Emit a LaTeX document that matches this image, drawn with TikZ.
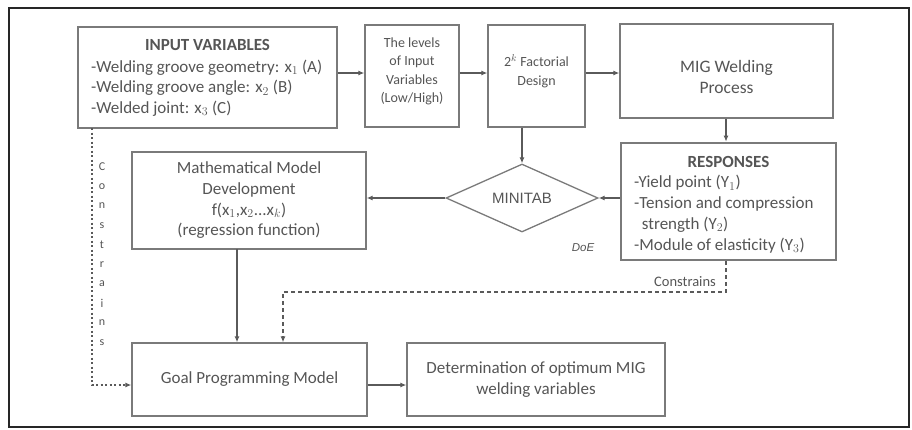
\documentclass[tikz,border=0pt]{standalone}
\usepackage{fontspec}
\setmainfont{Carlito}
\newfontfamily\arialf{Liberation Sans}
\usetikzlibrary{shapes.geometric,arrows.meta}
\definecolor{txt}{HTML}{555555}
\definecolor{bord}{HTML}{7A7A7A}
\definecolor{ln}{HTML}{5A5A5A}
\begin{document}
\begin{tikzpicture}[x=1pt,y=-1pt,
  box/.style={draw=bord,line width=1.3pt,text=txt,inner sep=0pt,align=center,font=\fontsize{17}{20.7}\selectfont},
  thickbox/.style={box,line width=2.6pt},
  lbl/.style={text=txt,inner sep=0pt,font=\fontsize{17}{20.7}\selectfont},
  arr/.style={draw=ln,line width=1.3pt,-{Latex[length=6pt,width=5pt]}},
  dsh/.style={arr,dash pattern=on 4pt off 3pt},
  dtt/.style={arr,dash pattern=on 2pt off 2.5pt}]
\useasboundingbox (0,0) rectangle (912,429);
\draw[line width=2pt,black!85] (9,8) rectangle (909,427);
% nodes
\node[thickbox,minimum width=259pt,minimum height=101pt] (input) at (207.5,77.5) {};
\node[lbl,anchor=base] (inputt) at (207.5,50.5) {\textbf{INPUT VARIABLES}};
\node[lbl,anchor=base west,align=left] (inputl) at (91,113.4) {-Welding groove geometry: x$_1$ (A)\\-Welding groove angle: x$_2$ (B)\\-Welded joint: x$_3$ (C)};
\node[box,minimum width=94pt,minimum height=102pt] (levels) at (412,76) {};
\node[lbl,align=center,anchor=base,font=\fontsize{14}{18.5}\selectfont] (levelst) at (412,102.5) {The levels\\of Input\\Variables\\(Low/High)};
\node[box,minimum width=97pt,minimum height=102pt] (fact) at (536.5,76) {};
\node[lbl,align=center,anchor=base,font=\fontsize{14}{18.5}\selectfont] (factt) at (536.5,85) {2$^k$ Factorial\\Design};
\node[box,minimum width=213pt,minimum height=94pt] (mig) at (726.5,71) {};
\node[lbl,align=center,anchor=base,font=\fontsize{17.5}{21}\selectfont] (migt) at (726.5,93) {MIG Welding\\Process};
\node[thickbox,minimum width=215pt,minimum height=117pt] (resp) at (728.5,201.5) {};
\node[lbl,anchor=base] (respt) at (728.5,167) {\textbf{RESPONSES}};
\node[lbl,anchor=base west,align=left] (respl) at (634,250) {-Yield point (Y$_1$)\\-Tension and compression\\\ \ strength (Y$_2$)\\-Module of elasticity (Y$_3$)};
\node[box,minimum width=234pt,minimum height=97pt] (math) at (249,200.5) {Mathematical Model\\Development\\f(x$_1$,x$_2$...x$_k$)\\(regression function)};
\node[draw=bord,line width=1.3pt,diamond,aspect=2.24,minimum width=152pt,minimum height=68pt,inner sep=0pt,text=txt,font=\arialf\fontsize{15}{17}\selectfont] (mini) at (522,198) {MINITAB};
\node[text=txt,font=\arialf\itshape\fontsize{11.5}{13}\selectfont] (doe) at (583,248) {DoE};
\node[box,minimum width=235pt,minimum height=73pt] (goal) at (249.5,379.5) {Goal Programming Model};
\node[box,minimum width=258pt,minimum height=73pt] (det) at (536,379.5) {Determination of optimum MIG\\welding variables};
\node[text=txt,font=\fontsize{14.5}{16}\selectfont] (cons) at (685,282) {Constrains};
% vertical letters
\foreach \c [count=\i from 0] in {C,o,n,s,t,r,a,i,n,s}
  \node[text=txt,font=\fontsize{12}{13}\selectfont,inner sep=0pt] (v\i) at (102,167+19.5*\i) {\c};
% coordinates
\coordinate (mb) at (237,249);
\coordinate (cd1) at (726,292);
\coordinate (cd2) at (283,292);
\coordinate (ib) at (92,128);
\coordinate (il) at (92,385);
% connectors
\draw[arr] (input.east|-0,73) -- (levels.west|-0,73);
\draw[arr] (levels.east|-0,73) -- (fact.west|-0,73);
\draw[arr] (fact.east|-0,73) -- (mig.west|-0,73);
\draw[arr] (mig.south-|726,0) -- (resp.north-|726,0);
\draw[arr] (mini.north|-fact.south) -- (mini.north);
\draw[arr] (resp.west|-mini.east) -- (mini.east);
\draw[arr] (mini.west) -- (math.east|-mini.west);
\draw[arr] (mb) -- (goal.north-|mb);
\draw[dsh] (resp.south-|cd1) -- (cd1) -- (cd2) -- (goal.north-|cd2);
\draw[dtt] (ib) -- (il) -- (goal.west|-il);
\draw[arr] (goal.east|-il) -- (det.west|-il);
\end{tikzpicture}
\end{document}
